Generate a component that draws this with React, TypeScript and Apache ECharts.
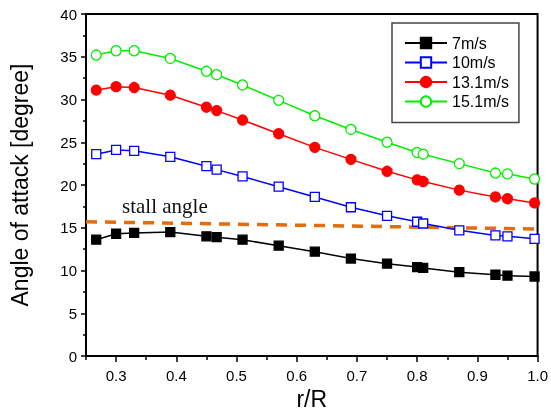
import React, { useEffect, useRef } from "react";
import * as echarts from "echarts";

const rValues = [0.267, 0.3, 0.33, 0.39, 0.45, 0.467, 0.51, 0.57, 0.63, 0.69, 0.75, 0.8, 0.81, 0.87, 0.93, 0.95, 0.995];
const v7 = [13.6, 14.3, 14.4, 14.5, 14.0, 13.9, 13.6, 12.9, 12.2, 11.4, 10.8, 10.4, 10.3, 9.8, 9.5, 9.4, 9.3];
const v10 = [23.6, 24.1, 24.0, 23.3, 22.2, 21.8, 21.0, 19.8, 18.6, 17.4, 16.4, 15.7, 15.5, 14.7, 14.1, 14.0, 13.7];
const v131 = [31.1, 31.5, 31.4, 30.5, 29.1, 28.7, 27.6, 26.0, 24.4, 23.0, 21.6, 20.6, 20.4, 19.4, 18.6, 18.4, 17.9];
const v151 = [35.2, 35.7, 35.7, 34.8, 33.3, 32.9, 31.7, 29.9, 28.1, 26.5, 25.0, 23.8, 23.6, 22.5, 21.4, 21.3, 20.7];
const stallR = [0.25, 1.0];
const stallAngle = [15.7, 14.85];
const xMajorTicks = [0.3, 0.4, 0.5, 0.6, 0.7, 0.8, 0.9, 1.0];
const xMinorTicks = [0.25, 0.35, 0.45, 0.55, 0.65, 0.75, 0.85, 0.95];

const pair = (xs: number[], ys: number[]) => xs.map((x, i) => [x, ys[i]]);

export default function App() {
  const ref = useRef<HTMLDivElement>(null);
  useEffect(() => {
    if (!ref.current) return;
    const chart = echarts.init(ref.current, null, { renderer: "svg" });
    const font = "Arial, 'Liberation Sans', sans-serif";
    const mk = (name: string, data: number[], color: string, symbol: string, size: number, filled: boolean) => ({
      name,
      type: "line",
      data: pair(rValues, data),
      symbol,
      symbolSize: size,
      showSymbol: true,
      lineStyle: { color, width: 1.5 },
      itemStyle: { color: filled ? color : "#fff", borderColor: color, borderWidth: 1.3 },
      z: 3,
    });
    chart.setOption({
      animation: false,
      grid: { left: 82, right: 11, top: 14, bottom: 63, show: true, borderColor: "#000", borderWidth: 2, backgroundColor: "transparent" },
      legend: {
        orient: "vertical",
        left: 392,
        top: 23,
        padding: [12, 10, 13, 12],
        itemGap: 3.5,
        itemWidth: 42,
        itemHeight: 13,
        borderColor: "#444",
        borderWidth: 1.5,
        textStyle: { fontFamily: font, fontSize: 16, color: "#000" },
        data: ["7m/s", "10m/s", "13.1m/s", "15.1m/s"],
      },
      xAxis: [
        {
          type: "value",
          min: 0.25,
          max: 1.0,
          name: "r/R",
          nameLocation: "middle",
          nameGap: 30,
          nameTextStyle: { fontFamily: font, fontSize: 23, color: "#000" },
          axisLine: { show: true, onZero: false, lineStyle: { color: "#000", width: 2 } },
          axisTick: { show: true, customValues: xMajorTicks, length: 6, lineStyle: { color: "#000", width: 1.5 } },
          axisLabel: { customValues: xMajorTicks, margin: 12, fontFamily: font, fontSize: 15, color: "#000", formatter: (v: number) => v.toFixed(1) },
          splitLine: { show: false },
        },
        {
          type: "value",
          position: "bottom",
          min: 0.25,
          max: 1.0,
          axisLine: { show: false, onZero: false },
          axisTick: { show: true, customValues: xMinorTicks, length: 4, lineStyle: { color: "#000", width: 1.5 } },
          axisLabel: { show: false },
          splitLine: { show: false },
        },
      ],
      yAxis: {
        type: "value",
        min: 0,
        max: 40,
        interval: 5,
        name: "Angle of attack [degree]",
        nameLocation: "middle",
        nameGap: 55,
        nameTextStyle: { fontFamily: font, fontSize: 23, color: "#000" },
        axisLine: { show: true, onZero: false, lineStyle: { color: "#000", width: 2 } },
        axisTick: { show: true, length: 5, lineStyle: { color: "#000", width: 1.5 } },
        minorTick: { show: true, splitNumber: 2, length: 3, lineStyle: { color: "#000", width: 1.5 } },
        axisLabel: { margin: 9, fontFamily: font, fontSize: 15, color: "#000" },
        splitLine: { show: false },
      },
      graphic: [
        {
          type: "text",
          left: 122,
          top: 195,
          style: { text: "stall angle", font: "21px 'Liberation Serif', 'Times New Roman', serif", fill: "#111" },
          z: 10,
        },
      ],
      series: [
        mk("7m/s", v7, "#000000", "rect", 9, true),
        mk("10m/s", v10, "#0000FF", "rect", 9, false),
        mk("13.1m/s", v131, "#FF0000", "circle", 10, true),
        mk("15.1m/s", v151, "#00EE00", "circle", 10, false),
        {
          name: "stall",
          type: "line",
          data: pair(stallR, stallAngle),
          symbol: "none",
          lineStyle: { color: "#E46C0A", width: 3.5, type: [11, 8] },
          z: 2,
        },
      ],
    });
    return () => chart.dispose();
  }, []);
  return <div ref={ref} style={{ position: "fixed", left: 0, top: 0, width: 551, height: 419 }} />;
}
